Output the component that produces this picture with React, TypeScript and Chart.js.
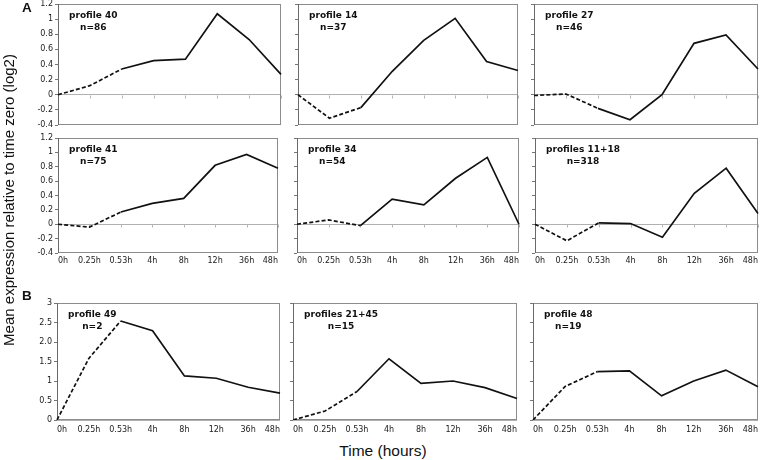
import React, { useEffect, useRef } from 'react';
import { Chart, registerables } from 'chart.js';

Chart.register(...registerables);

// ---------- data ----------
const timeLabels = ['0h', '0.25h', '0.53h', '4h', '8h', '12h', '36h', '48h'];

const profile40 = [0, 0.12, 0.34, 0.45, 0.47, 1.07, 0.73, 0.27];
const profile14 = [0, -0.31, -0.17, 0.31, 0.72, 1.01, 0.44, 0.32];
const profile27 = [-0.01, 0.01, -0.18, -0.33, 0, 0.68, 0.79, 0.34];
const profile41 = [0, -0.04, 0.17, 0.29, 0.36, 0.82, 0.97, 0.78];
const profile34 = [0, 0.06, -0.02, 0.35, 0.27, 0.64, 0.93, 0];
const profiles11_18 = [0, -0.23, 0.02, 0.01, -0.18, 0.43, 0.78, 0.15];
const profile49 = [0, 1.58, 2.54, 2.29, 1.13, 1.07, 0.84, 0.69];
const profiles21_45 = [0, 0.23, 0.73, 1.57, 0.94, 1.0, 0.83, 0.55];
const profile48 = [0, 0.86, 1.24, 1.26, 0.62, 1.0, 1.28, 0.85];

const panelTitles = ['profile 40', 'profile 14', 'profile 27', 'profile 41', 'profile 34', 'profiles 11+18', 'profile 49', 'profiles 21+45', 'profile 48'];
const panelCounts = ['n=86', 'n=37', 'n=46', 'n=75', 'n=54', 'n=318', 'n=2', 'n=15', 'n=19'];
const panelSeries = [profile40, profile14, profile27, profile41, profile34, profiles11_18, profile49, profiles21_45, profile48];

const yTicksA = [-0.4, -0.2, 0, 0.2, 0.4, 0.6, 0.8, 1, 1.2];
const yTickLabelsA = ['-0.4', '-0.2', '0', '0.2', '0.4', '0.6', '0.8', '1', '1.2'];
const yTicksB = [0, 0.5, 1, 1.5, 2, 2.5, 3];
const yTickLabelsB = ['0', '0.5', '1', '1.5', '2.0', '2.5', '3'];

const yAxisTitle = 'Mean expression relative to time zero (log2)';
const xAxisTitle = 'Time (hours)';

// ---------- layout (plot areas in page pixels) ----------
const rowTB = [
  [4, 125],
  [138, 253],
  [303, 420],
];
const rowCols = [
  [[58, 281], [298, 518], [534, 758]],
  [[58, 278], [297, 519], [535, 758]],
  [[57, 280], [293, 517], [533, 758]],
];

const TICK_FONT = { family: 'DejaVu Sans', size: 8 };
const MT = 8;
const MR = 2;

const decoPlugin = {
  id: 'panelDeco',
  beforeDatasetsDraw(chart: any, _args: any, opts: any) {
    const { ctx, chartArea } = chart;
    const { left, top, right, bottom } = chartArea;
    ctx.save();
    ctx.lineWidth = 1;
    if (opts.zeroTicks) {
      const y0 = Math.round(chart.scales.y.getPixelForValue(0)) + 0.5;
      ctx.strokeStyle = '#b5b5b5';
      chart.scales.x.ticks.forEach((_t: any, i: number) => {
        const x = Math.round(chart.scales.x.getPixelForTick(i)) + 0.5;
        ctx.beginPath();
        ctx.moveTo(x, y0);
        ctx.lineTo(x, y0 + 3);
        ctx.stroke();
      });
    }
    ctx.strokeStyle = '#8c8c8c';
    ctx.strokeRect(left + 0.5, top + 0.5, right - left - 1, bottom - top - 1);
    ctx.strokeStyle = '#6a6a6a';
    ctx.beginPath();
    ctx.moveTo(left + 0.5, top);
    ctx.lineTo(left + 0.5, bottom);
    ctx.stroke();
    ctx.restore();
  },
  afterDatasetsDraw(chart: any, _args: any, opts: any) {
    const { ctx, chartArea } = chart;
    ctx.save();
    ctx.font = 'bold 9px "DejaVu Sans"';
    ctx.fillStyle = '#111';
    ctx.textBaseline = 'top';
    ctx.textAlign = 'center';
    const w1 = ctx.measureText(opts.title).width;
    const cx = chartArea.left + 11 + w1 / 2;
    ctx.fillText(opts.title, cx, chartArea.top + 7.5);
    ctx.fillText(opts.count, cx, chartArea.top + 19);
    ctx.restore();
  },
};

type PanelProps = {
  idx: number;
};

function Panel({ idx }: PanelProps) {
  const ref = useRef<HTMLCanvasElement>(null);
  const row = Math.floor(idx / 3);
  const col = idx % 3;
  const [T, B] = rowTB[row];
  const [L, R] = rowCols[row][col];
  const isB = row === 2;
  const showY = col === 0;
  const showX = row > 0;
  const ml = showY ? 40 : 8;
  const mb = showX ? 16 : 8;
  const W = R - L + ml + MR;
  const H = B - T + MT + mb;

  useEffect(() => {
    if (!ref.current) return;
    const yTicks = isB ? yTicksB : yTicksA;
    const yLabels = isB ? yTickLabelsB : yTickLabelsA;
    const chart = new Chart(ref.current, {
      type: 'line',
      data: {
        labels: timeLabels,
        datasets: [
          {
            data: panelSeries[idx],
            borderColor: '#111',
            borderWidth: 1.7,
            pointRadius: 0,
            tension: 0,
            fill: false,
            segment: {
              borderDash: (c: any) => (c.p0DataIndex < 2 ? [4, 2.2] : undefined),
            },
          } as any,
        ],
      },
      options: {
        animation: false,
        responsive: false,
        devicePixelRatio: 1,
        layout: { padding: { left: 0, top: MT, right: MR, bottom: 0 } },
        plugins: {
          legend: { display: false },
          tooltip: { enabled: false },
          panelDeco: { title: panelTitles[idx], count: panelCounts[idx], zeroTicks: !isB },
        } as any,
        scales: {
          x: {
            type: 'category',
            offset: false,
            grid: { display: false, drawTicks: true, tickLength: isB ? 5 : 3 },
            border: { display: false },
            ticks: {
              display: showX,
              align: 'inner',
              maxRotation: 0,
              autoSkip: false,
              padding: 0,
              font: TICK_FONT,
              color: '#1a1a1a',
            },
            afterFit: (s: any) => {
              s.height = mb;
            },
          } as any,
          y: {
            type: 'linear',
            min: yTicks[0],
            max: yTicks[yTicks.length - 1],
            grid: {
              drawOnChartArea: true,
              drawTicks: true,
              tickLength: 3,
              tickColor: '#777',
              color: (c: any) => (c.tick && c.tick.value === 0 ? '#b0b0b0' : 'rgba(0,0,0,0)'),
            },
            border: { display: false },
            ticks: {
              display: showY,
              padding: 2,
              font: TICK_FONT,
              color: '#1a1a1a',
              callback: (v: any) => yLabels[yTicks.indexOf(v)],
            },
            afterBuildTicks: (s: any) => {
              s.ticks = yTicks.map((v) => ({ value: v }));
            },
            afterFit: (s: any) => {
              s.width = ml;
            },
          } as any,
        },
      },
      plugins: [decoPlugin as any],
    });
    return () => chart.destroy();
  }, []);

  return (
    <canvas
      ref={ref}
      width={W}
      height={H}
      style={{ position: 'absolute', left: L - ml, top: T - MT, width: W, height: H }}
    />
  );
}

export default function App() {
  return (
    <div
      style={{
        position: 'absolute',
        left: 0,
        top: 0,
        width: 760,
        height: 460,
        background: '#fff',
        overflow: 'hidden',
        fontFamily: '"Liberation Sans", Arial, sans-serif',
      }}
    >
      {panelSeries.map((_, i) => (
        <Panel key={i} idx={i} />
      ))}
      <div style={{ position: 'absolute', left: 22, top: 0, fontWeight: 'bold', fontSize: 13.5, lineHeight: '15px', color: '#111' }}>A</div>
      <div style={{ position: 'absolute', left: 22, top: 288, fontWeight: 'bold', fontSize: 13.5, lineHeight: '15px', color: '#111' }}>B</div>
      <div
        style={{
          position: 'absolute',
          left: 8,
          top: 200,
          transform: 'translate(-50%, -50%) rotate(-90deg)',
          whiteSpace: 'nowrap',
          fontSize: 15,
          lineHeight: '17px',
          color: '#111',
        }}
      >
        {yAxisTitle}
      </div>
      <div
        style={{
          position: 'absolute',
          left: 383,
          top: 442,
          transform: 'translateX(-50%)',
          whiteSpace: 'nowrap',
          fontSize: 15.5,
          lineHeight: '18px',
          color: '#111',
        }}
      >
        {xAxisTitle}
      </div>
    </div>
  );
}
